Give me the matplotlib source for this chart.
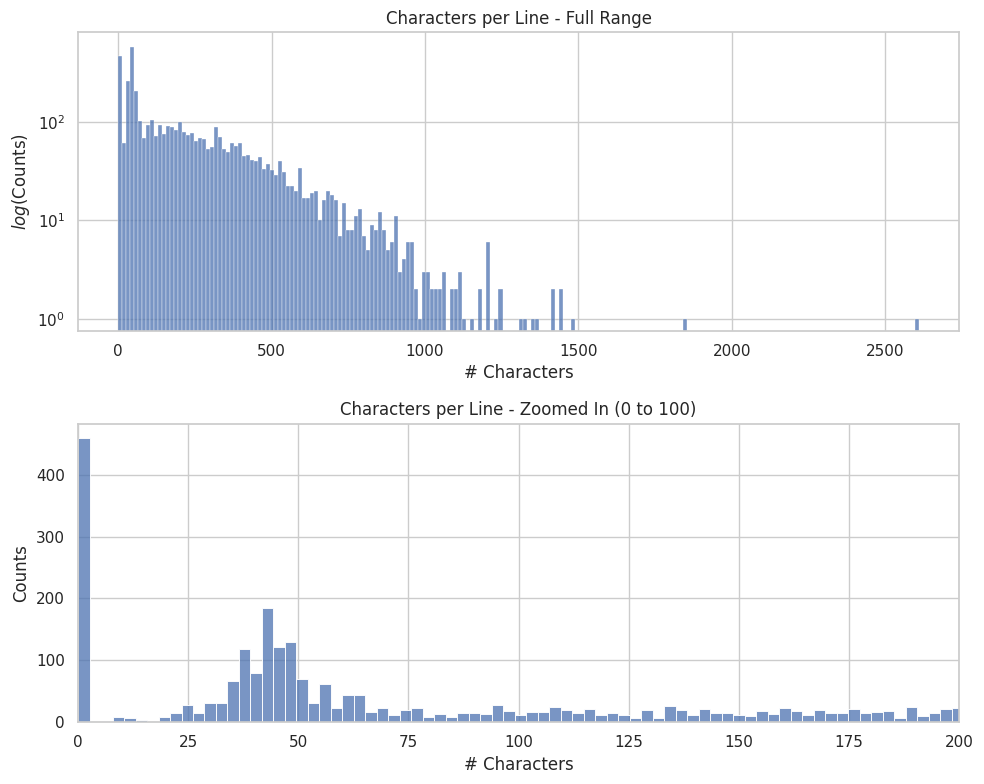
import numpy as np
import pandas as pd
import matplotlib
matplotlib.use("Agg")
import matplotlib.pyplot as plt
import seaborn as sns

# full range histogram: 200 bins over 0..2610 characters
max_chars = 2610
n_bins_full = 200
dense_counts = [467, 61, 260, 575, 206, 102, 69, 92, 104, 72,
                92, 75, 91, 88, 82, 100, 79, 74, 77, 64,
                69, 67, 53, 56, 89, 70, 53, 49, 61, 57,
                61, 45, 46, 41, 40, 44, 33, 37, 32, 29,
                40, 31, 22, 22, 20, 34, 17, 17, 19, 20,
                10, 16, 20, 18, 16, 7, 15, 8, 8, 11,
                13, 7, 5, 9, 8, 12, 8, 5, 6, 11,
                3, 4, 6, 6, 2, 1, 3, 3, 2, 2,
                2, 3, 0, 2, 2, 3, 1, 0, 1, 0,
                2, 0, 6, 0, 1, 2, 0, 0, 0, 0,
                1, 1, 0, 1, 1, 0, 0, 0, 2, 0,
                2, 0, 0, 1]
tail_bins = [141, 199]
tail_counts = [1, 1]

# zoomed histogram: 1000 bins over the same range, first 77 shown
n_bins_zoom = 1000
zoom_counts = [460, 0, 1, 9, 6, 4, 0, 8, 15, 28,
               15, 31, 31, 66, 118, 80, 184, 122, 129, 69,
               31, 61, 23, 44, 44, 16, 23, 11, 20, 23,
               8, 13, 8, 15, 15, 13, 28, 18, 11, 16,
               16, 24, 20, 15, 21, 11, 15, 11, 6, 20,
               6, 26, 20, 11, 21, 15, 15, 11, 10, 18,
               13, 23, 18, 11, 20, 15, 15, 21, 15, 16,
               18, 6, 24, 10, 15, 21, 23]

sns.set_theme(style="whitegrid")

full_width = max_chars / n_bins_full
full_counts = np.zeros(n_bins_full)
full_counts[:len(dense_counts)] = dense_counts
full_counts[tail_bins] = tail_counts
full_df = pd.DataFrame({"chars": (np.arange(n_bins_full) + 0.5) * full_width,
                        "count": full_counts})

zoom_width = max_chars / n_bins_zoom
zoom_df = pd.DataFrame({"chars": (np.arange(len(zoom_counts)) + 0.5) * zoom_width,
                        "count": zoom_counts})

fig, (ax1, ax2) = plt.subplots(2, 1, figsize=(9.84, 7.84), dpi=100)

sns.histplot(data=full_df, x="chars", weights="count",
             binwidth=full_width, binrange=(0, max_chars), ax=ax1)
ax1.set_yscale("log")
ax1.set_ylim(0.76, 810)
ax1.set_title("Characters per Line - Full Range")
ax1.set_xlabel("# Characters")
ax1.set_ylabel("$log$(Counts)")

sns.histplot(data=zoom_df, x="chars", weights="count",
             binwidth=zoom_width, binrange=(0, len(zoom_counts) * zoom_width), ax=ax2)
ax2.set_xlim(0, 200)
ax2.set_title("Characters per Line - Zoomed In (0 to 100)")
ax2.set_xlabel("# Characters")
ax2.set_ylabel("Counts")

fig.subplots_adjust(left=0.0793, right=0.9746, top=0.959, bottom=0.079, hspace=0.312)
plt.savefig("out.png")
